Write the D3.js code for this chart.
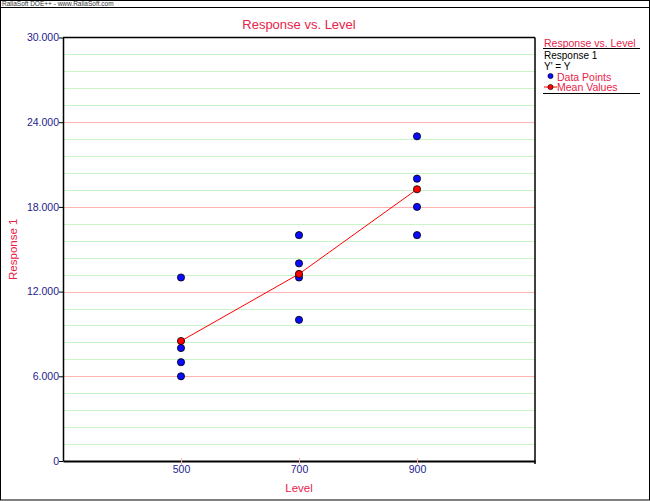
<!DOCTYPE html>
<html>
<head>
<meta charset="utf-8">
<script src="https://cdn.jsdelivr.net/npm/d3@7"></script>
<style>
  body { margin: 0; background: #fff; }
  svg { display: block; font-family: "Liberation Sans", Arial, sans-serif; }
</style>
</head>
<body>
<svg id="chart"></svg>
<script>
// data
const levels = [500, 700, 900];
const responses = [
  [13, 8, 7, 6],
  [16, 14, 13, 10],
  [23, 20, 18, 16]
];
const meanValues = [8.5, 13.25, 19.25];
const yTicks = [0, 6, 12, 18, 24, 30];
const yTickLabels = ["0", "6.000", "12.000", "18.000", "24.000", "30.000"];
const xTicks = [500, 700, 900];

const W = 650, H = 501;
const plot = { left: 63, right: 535, top: 37.5, bottom: 461 };
const red = "#e8234a", blue = "#1d1d8f";

const svg = d3.select("#chart").attr("width", W).attr("height", H);

const x = d3.scaleLinear().domain([300, 1100]).range([plot.left, plot.right]);
const y = d3.scaleLinear().domain([0, 30]).range([plot.bottom, plot.top]);

// outer frame + header strip
svg.append("rect").attr("x", 0.5).attr("y", 0.5).attr("width", W - 1).attr("height", H - 1.5)
  .attr("fill", "#fff").attr("stroke", "#000");
svg.append("line").attr("x1", 0).attr("x2", W).attr("y1", 7.5).attr("y2", 7.5).attr("stroke", "#000");
svg.append("text").attr("x", 2).attr("y", 6).attr("font-size", 6.5).attr("fill", "#333")
  .text("RaliaSoft DOE++ - www.RaliaSoft.com");

// grid: minor every 1.2, major every 6
const minor = d3.range(1.2, 30, 1.2).filter(v => Math.abs(v / 6 - Math.round(v / 6)) > 1e-6);
svg.append("g").selectAll("line").data(minor).join("line")
  .attr("x1", plot.left).attr("x2", plot.right)
  .attr("y1", d => Math.round(y(d)) + 0.5).attr("y2", d => Math.round(y(d)) + 0.5)
  .attr("stroke", "#c9f5c9");
svg.append("g").selectAll("line").data(yTicks.slice(1, -1)).join("line")
  .attr("x1", plot.left).attr("x2", plot.right)
  .attr("y1", d => Math.round(y(d)) + 0.5).attr("y2", d => Math.round(y(d)) + 0.5)
  .attr("stroke", "#ffb3b3");

// plot frame
svg.append("line").attr("x1", plot.left).attr("x2", plot.right).attr("y1", plot.top).attr("y2", plot.top)
  .attr("stroke", "#000").attr("stroke-width", 1.5);
svg.append("line").attr("x1", plot.right).attr("x2", plot.right).attr("y1", plot.top).attr("y2", plot.bottom + 3)
  .attr("stroke", "#000").attr("stroke-width", 1.5);

// y axis
const yAxis = svg.append("g")
  .attr("transform", `translate(${plot.left},0)`)
  .call(d3.axisLeft(y).tickValues(yTicks).tickFormat((d, i) => yTickLabels[i]).tickSize(4).tickSizeOuter(0));
yAxis.select(".domain").attr("stroke", "#000").attr("stroke-width", 1.5);
yAxis.selectAll(".tick line").attr("stroke", "#000");
yAxis.selectAll(".tick text").attr("fill", blue).attr("font-size", 10.5)
  .attr("font-family", "Liberation Sans, Arial, sans-serif").attr("x", -4);

// x axis
const xAxis = svg.append("g")
  .attr("transform", `translate(0,${plot.bottom})`)
  .call(d3.axisBottom(x).tickValues(xTicks).tickSize(4).tickSizeOuter(0));
xAxis.select(".domain").attr("stroke", "#000").attr("stroke-width", 2);
xAxis.selectAll(".tick line").attr("stroke", "#ffb3b3").attr("y1", -3).attr("y2", 4);
xAxis.selectAll(".tick text").attr("fill", blue).attr("font-size", 10.5)
  .attr("font-family", "Liberation Sans, Arial, sans-serif").attr("y", 5);

// titles
svg.append("text").attr("x", (plot.left + plot.right) / 2).attr("y", 29)
  .attr("text-anchor", "middle").attr("font-size", 13).attr("fill", red).text("Response vs. Level");
svg.append("text").attr("x", (plot.left + plot.right) / 2).attr("y", 492)
  .attr("text-anchor", "middle").attr("font-size", 11.5).attr("fill", red).text("Level");
svg.append("text").attr("transform", `translate(17,${(plot.top + plot.bottom) / 2}) rotate(-90)`)
  .attr("text-anchor", "middle").attr("font-size", 11.5).attr("fill", red).text("Response 1");

// mean line
const line = d3.line().x((d, i) => x(levels[i])).y(d => y(d));
svg.append("path").datum(meanValues).attr("d", line)
  .attr("fill", "none").attr("stroke", "#ff0000").attr("stroke-width", 1);

// data points
const pts = levels.flatMap((lv, i) => responses[i].map(v => ({ lv, v })));
svg.append("g").selectAll("circle").data(pts).join("circle")
  .attr("cx", d => x(d.lv)).attr("cy", d => y(d.v)).attr("r", 3.6)
  .attr("fill", "#0a0aff").attr("stroke", "#000").attr("stroke-width", 0.8);

// mean points
svg.append("g").selectAll("circle").data(meanValues).join("circle")
  .attr("cx", (d, i) => x(levels[i])).attr("cy", d => y(d)).attr("r", 3.6)
  .attr("fill", "#ff0000").attr("stroke", "#000").attr("stroke-width", 0.8);

// legend
const lg = svg.append("g").attr("font-size", 10.5);
lg.append("text").attr("x", 544).attr("y", 46.5).attr("fill", red).text("Response vs. Level");
lg.append("line").attr("x1", 543).attr("x2", 640).attr("y1", 48.5).attr("y2", 48.5).attr("stroke", "#000");
lg.append("text").attr("x", 544).attr("y", 58.5).attr("font-size", 10).attr("fill", "#000").text("Response 1");
lg.append("text").attr("x", 544).attr("y", 70).attr("font-size", 10).attr("fill", "#000").text("Y' = Y");
lg.append("circle").attr("cx", 550.5).attr("cy", 76).attr("r", 2.6)
  .attr("fill", "#0a0aff").attr("stroke", "#000").attr("stroke-width", 0.6);
lg.append("text").attr("x", 557).attr("y", 80.5).attr("fill", red).text("Data Points");
lg.append("line").attr("x1", 544).attr("x2", 557).attr("y1", 87).attr("y2", 87).attr("stroke", "#ff0000");
lg.append("circle").attr("cx", 550.5).attr("cy", 87).attr("r", 2.6)
  .attr("fill", "#ff0000").attr("stroke", "#000").attr("stroke-width", 0.6);
lg.append("text").attr("x", 557).attr("y", 91).attr("fill", red).text("Mean Values");
lg.append("line").attr("x1", 543).attr("x2", 640).attr("y1", 93.5).attr("y2", 93.5).attr("stroke", "#000");
</script>
</body>
</html>
